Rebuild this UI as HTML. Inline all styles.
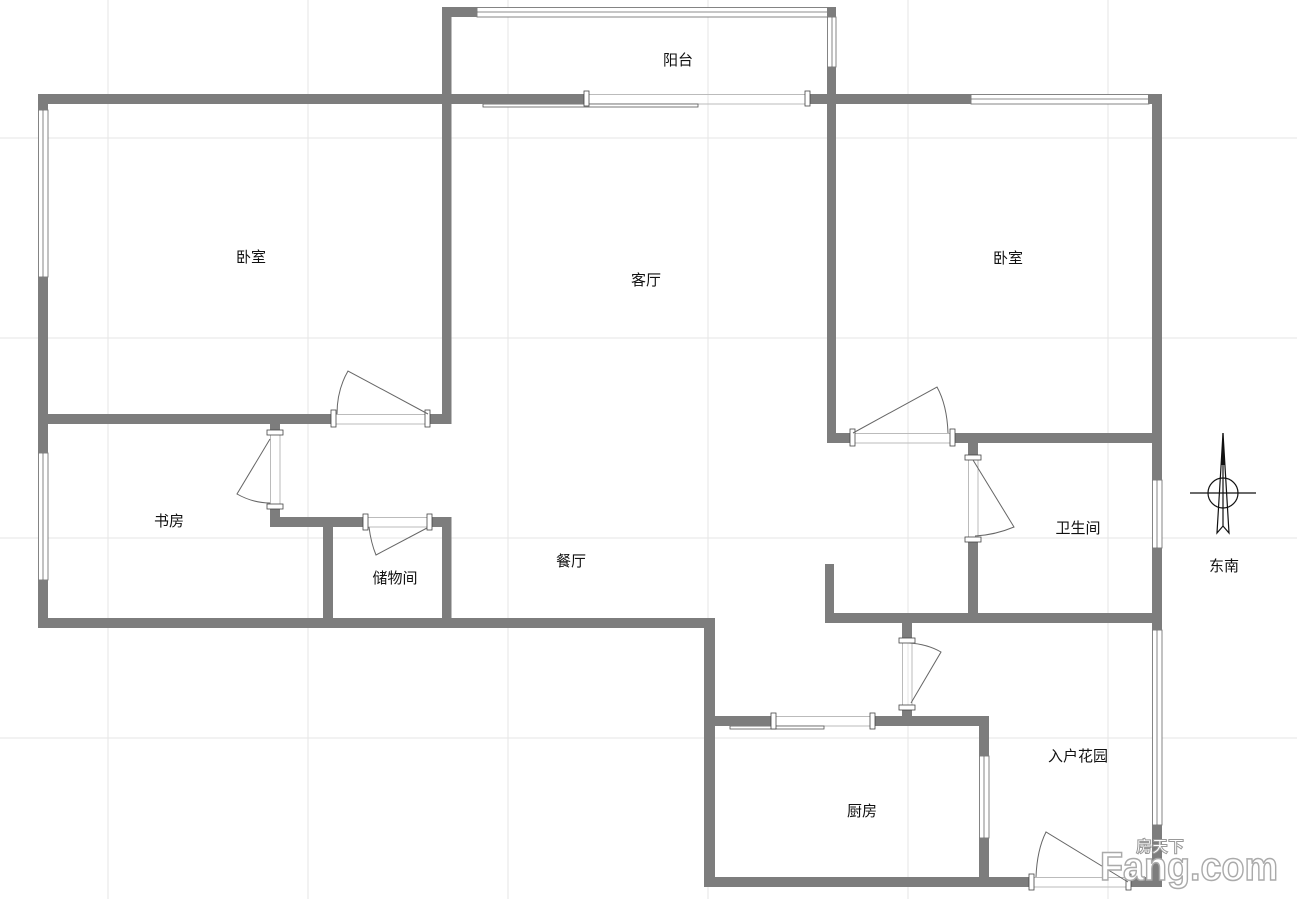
<!DOCTYPE html>
<html><head><meta charset="utf-8"><style>
html,body{margin:0;padding:0;background:#fff}
svg{display:block}
text{font-family:"Liberation Sans","Noto Sans CJK SC",sans-serif;font-size:15px;fill:#111}
</style></head><body>
<svg width="1297" height="899" viewBox="0 0 1297 899" xmlns="http://www.w3.org/2000/svg">
<g stroke="#e6e6e6" stroke-width="1">
<line x1="108" y1="0" x2="108" y2="899"/><line x1="308" y1="0" x2="308" y2="899"/><line x1="508" y1="0" x2="508" y2="899"/><line x1="708" y1="0" x2="708" y2="899"/><line x1="908" y1="0" x2="908" y2="899"/><line x1="1108" y1="0" x2="1108" y2="899"/>
<line x1="0" y1="138" x2="1297" y2="138"/><line x1="0" y1="338" x2="1297" y2="338"/><line x1="0" y1="538" x2="1297" y2="538"/><line x1="0" y1="738" x2="1297" y2="738"/>
</g>
<g fill="#fff" stroke="#666" stroke-width="0.8">
<rect x="477" y="7.5" width="351" height="9.5"/><line x1="477" y1="12" x2="828" y2="12"/>
<rect x="827.5" y="17" width="8.5" height="50"/><line x1="832" y1="17" x2="832" y2="67"/>
<rect x="971" y="94.5" width="178" height="9.5"/><line x1="971" y1="99" x2="1149" y2="99"/>
<rect x="38.5" y="110" width="9.5" height="167"/><line x1="43" y1="110" x2="43" y2="277"/>
<rect x="38.5" y="453" width="9.5" height="127"/><line x1="43" y1="453" x2="43" y2="580"/>
<rect x="1152.5" y="480" width="9.5" height="68"/><line x1="1157" y1="480" x2="1157" y2="548"/>
<rect x="1152.5" y="630" width="9.5" height="195"/><line x1="1157" y1="630" x2="1157" y2="825"/>
<rect x="979.5" y="756" width="9.5" height="82"/><line x1="984" y1="756" x2="984" y2="838"/>
</g>
<g stroke="#bbb" stroke-width="1" fill="none">
<line x1="586" y1="94.5" x2="808" y2="94.5"/><line x1="586" y1="104" x2="808" y2="104"/>
<line x1="334" y1="414.5" x2="428" y2="414.5"/><line x1="334" y1="424" x2="428" y2="424"/>
<line x1="853" y1="433.5" x2="953" y2="433.5"/><line x1="853" y1="443" x2="953" y2="443"/>
<line x1="270.5" y1="433" x2="270.5" y2="507"/><line x1="280" y1="433" x2="280" y2="507"/>
<line x1="366" y1="517.5" x2="430" y2="517.5"/><line x1="366" y1="527" x2="430" y2="527"/>
<line x1="968.5" y1="457" x2="968.5" y2="539"/><line x1="978" y1="457" x2="978" y2="539"/>
<line x1="902.5" y1="640" x2="902.5" y2="707"/><line x1="912" y1="640" x2="912" y2="707"/>
<line x1="774" y1="716.5" x2="873" y2="716.5"/><line x1="774" y1="726" x2="873" y2="726"/>
<line x1="1032" y1="877.5" x2="1128" y2="877.5"/><line x1="1032" y1="887" x2="1128" y2="887"/>
</g>
<g fill="#fff" stroke="#555" stroke-width="0.8">
<rect x="483" y="104" width="215" height="3"/>
<rect x="730" y="726" width="94" height="3"/>
</g>
<g fill="#7d7d7d">
<rect x="442" y="7" width="35" height="10"/>
<rect x="442" y="7" width="9.5" height="98"/>
<rect x="827" y="7" width="9" height="10"/>
<rect x="827" y="67" width="9" height="376"/>
<rect x="38" y="94" width="548" height="10"/>
<rect x="808" y="94" width="163" height="10"/>
<rect x="1148" y="94" width="14" height="10"/>
<rect x="1152" y="94" width="10" height="386"/>
<rect x="1152" y="548" width="10" height="82"/>
<rect x="1152" y="825" width="10" height="62"/>
<rect x="38" y="94" width="10" height="16"/>
<rect x="38" y="277" width="10" height="176"/>
<rect x="38" y="580" width="10" height="48"/>
<rect x="442" y="94" width="9.5" height="330"/>
<rect x="38" y="414" width="296" height="10"/>
<rect x="428" y="414" width="23" height="10"/>
<rect x="270" y="424" width="10" height="9"/>
<rect x="270" y="507" width="10" height="20"/>
<rect x="270" y="517" width="96" height="10"/>
<rect x="430" y="517" width="21" height="10"/>
<rect x="442" y="517" width="9.5" height="111"/>
<rect x="323" y="527" width="10" height="91"/>
<rect x="38" y="618" width="676" height="10"/>
<rect x="704" y="618" width="11" height="269"/>
<rect x="827" y="433" width="26" height="10"/>
<rect x="953" y="433" width="199" height="10"/>
<rect x="968" y="443" width="10" height="14"/>
<rect x="968" y="539" width="10" height="76"/>
<rect x="825" y="564" width="9" height="59"/>
<rect x="825" y="613" width="327" height="10"/>
<rect x="902" y="623" width="10" height="17"/>
<rect x="902" y="707" width="10" height="9"/>
<rect x="715" y="716" width="59" height="10"/>
<rect x="873" y="716" width="116" height="10"/>
<rect x="979" y="716" width="10" height="40"/>
<rect x="979" y="838" width="10" height="49"/>
<rect x="704" y="877" width="328" height="10"/>
<rect x="1128" y="877" width="34" height="10"/>
</g>
<g fill="#fff" stroke="#444" stroke-width="0.8">
<rect x="584" y="91" width="5" height="15"/><rect x="805" y="91" width="5" height="15"/>
<rect x="331" y="410" width="5" height="17"/><rect x="425" y="410" width="5" height="17"/>
<rect x="850" y="429" width="5" height="17"/><rect x="950" y="429" width="5" height="17"/>
<rect x="267" y="430" width="16" height="5"/><rect x="267" y="504" width="16" height="5"/>
<rect x="363" y="514" width="5" height="16"/><rect x="427" y="514" width="5" height="16"/>
<rect x="965" y="455" width="16" height="5"/><rect x="965" y="537" width="16" height="5"/>
<rect x="899" y="638" width="16" height="5"/><rect x="899" y="705" width="16" height="5"/>
<rect x="771" y="713" width="5" height="16"/><rect x="870" y="713" width="5" height="16"/>
<rect x="1029" y="874" width="5" height="16"/><rect x="1126" y="874" width="5" height="16"/>
</g>
<g stroke="#666" stroke-width="1" fill="none">
<path d="M428 414 L348 371 Q337 390 337 414"/>
<path d="M853 433 L937 387 Q947 405 948 433"/>
<path d="M270 439 L237 494 Q253 503 270 503"/>
<path d="M427 528 L376 555 Q371 543 369 527"/>
<path d="M973 460 L1014 527 Q995 535 975 536"/>
<path d="M911 703 L941 652 Q927 644 909 643"/>
<path d="M1128 882 L1046 832 Q1037 850 1036 877"/>
</g>
<g stroke="#111" stroke-width="1.2" fill="none">
<circle cx="1223" cy="493" r="15"/>
<line x1="1190" y1="493" x2="1256" y2="493"/>
<path d="M1223 433 L1229 533 L1223 526 L1217 533 Z"/>
<line x1="1223" y1="433" x2="1223" y2="526"/>
</g>
<path d="M1223 433 L1225 465 L1221 465 Z" fill="#111"/>
<text x="678" y="65" text-anchor="middle">阳台</text>
<text x="251" y="262" text-anchor="middle">卧室</text>
<text x="646" y="285" text-anchor="middle">客厅</text>
<text x="1008" y="263" text-anchor="middle">卧室</text>
<text x="169" y="526" text-anchor="middle">书房</text>
<text x="395" y="583" text-anchor="middle">储物间</text>
<text x="571" y="566" text-anchor="middle">餐厅</text>
<text x="1078" y="533" text-anchor="middle">卫生间</text>
<text x="1078" y="761" text-anchor="middle">入户花园</text>
<text x="862" y="816" text-anchor="middle">厨房</text>
<text x="1224" y="571" text-anchor="middle">东南</text>
<text x="1100" y="880" textLength="178" lengthAdjust="spacingAndGlyphs" style="font-size:40px;font-weight:bold;fill:#fff;stroke:#aaa;stroke-width:1.5">Fang.com</text>
<text x="1136" y="852" style="font-size:16px;font-weight:bold;fill:#fff;stroke:#999;stroke-width:1">房天下</text>
</svg>
</body></html>
